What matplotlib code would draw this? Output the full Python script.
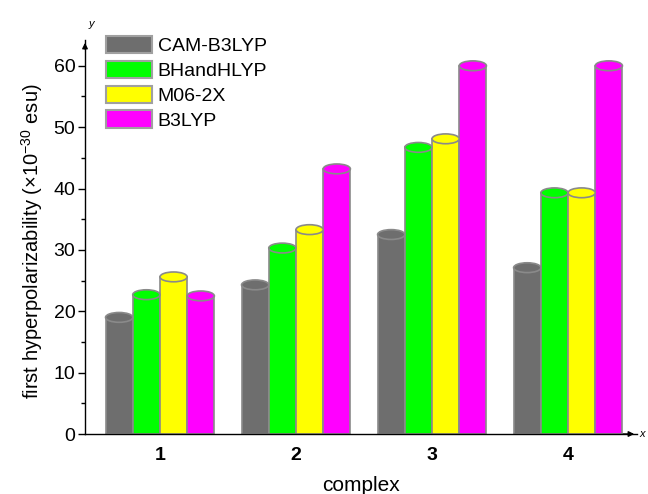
import matplotlib.pyplot as plt
from matplotlib.patches import Ellipse, Patch
from matplotlib.ticker import MultipleLocator
import numpy as np

plt.rcParams['font.family'] = ['Liberation Sans', 'DejaVu Sans']
plt.rcParams['mathtext.default'] = 'regular'

complexes = ['1', '2', '3', '4']
methods = ['CAM-B3LYP', 'BHandHLYP', 'M06-2X', 'B3LYP']
cam_b3lyp = [19.0, 24.3, 32.5, 27.1]
bhandhlyp = [22.7, 30.3, 46.7, 39.3]
m06_2x = [25.6, 33.3, 48.1, 39.3]
b3lyp = [22.5, 43.2, 60.0, 60.0]
series = [cam_b3lyp, bhandhlyp, m06_2x, b3lyp]
colors = ['#6e6e6e', '#00ff00', '#ffff00', '#ff00ff']
edge = '#8a8a8a'

W, H = 648, 494
fig = plt.figure(figsize=(W / 100, H / 100), dpi=100)
ax = fig.add_axes([85 / W, 1 - 434 / H, 552 / W, (434 - 40) / H])

x = np.arange(len(complexes))
bw = 0.2
ymax = 64.2
ax.set_xlim(-0.551, 3.507)
ell_h = 1.6

for i, (vals, c, m) in enumerate(zip(series, colors, methods)):
    xs = x + (i - 1.5) * bw
    ax.bar(xs, vals, width=bw, color=c, edgecolor=edge, linewidth=1.2, zorder=2, label=m)
    for xi, v in zip(xs, vals):
        ax.add_patch(Ellipse((xi, v), bw, ell_h, facecolor=c, edgecolor=edge,
                             linewidth=1.2, zorder=3))

ax.spines['top'].set_visible(False)
ax.spines['right'].set_visible(False)
ax.spines['left'].set_linewidth(1.0)
ax.spines['bottom'].set_linewidth(1.0)

ax.yaxis.set_major_locator(MultipleLocator(10))
ax.yaxis.set_minor_locator(MultipleLocator(5))
ax.set_ylim(0, ymax)
ax.tick_params(axis='y', which='major', length=5, width=1, labelsize=14, pad=2)
ax.tick_params(axis='y', which='minor', length=3, width=1)
ax.set_xticks(x)
ax.set_xticklabels(complexes, fontweight='bold', fontsize=14)
ax.tick_params(axis='x', length=0, pad=9)

ax.set_ylabel('first hyperpolarizability (\u00d710$^{-30}$ esu)', fontsize=14.5)
ax.yaxis.set_label_coords(-0.072, 0.49)
ax.set_xlabel('complex', fontsize=15, labelpad=9)

# axis arrows
ax.annotate('', xy=(0, 1.0), xytext=(0, 0.97), xycoords='axes fraction',
            arrowprops=dict(arrowstyle='-|>', color='black', lw=1, mutation_scale=8))
ax.annotate('', xy=(1.0, 0), xytext=(0.97, 0), xycoords='axes fraction',
            arrowprops=dict(arrowstyle='-|>', color='black', lw=1, mutation_scale=8))
ax.text(0.012, 1.04, 'y', transform=ax.transAxes, fontsize=8, style='italic', ha='center', va='center')
ax.text(1.01, 0.0, 'x', transform=ax.transAxes, fontsize=8, style='italic', ha='center', va='center')

handles = [Patch(facecolor=c, edgecolor='#a0a0a0', linewidth=1.5) for c in colors]
ax.legend(handles, methods, loc='upper left', bbox_to_anchor=(0.038, 1.01), frameon=False,
          fontsize=14, handlelength=2.35, handleheight=1.0, labelspacing=0.28,
          handletextpad=0.3, borderpad=0, borderaxespad=0)

fig.savefig('out.png', dpi=100)
